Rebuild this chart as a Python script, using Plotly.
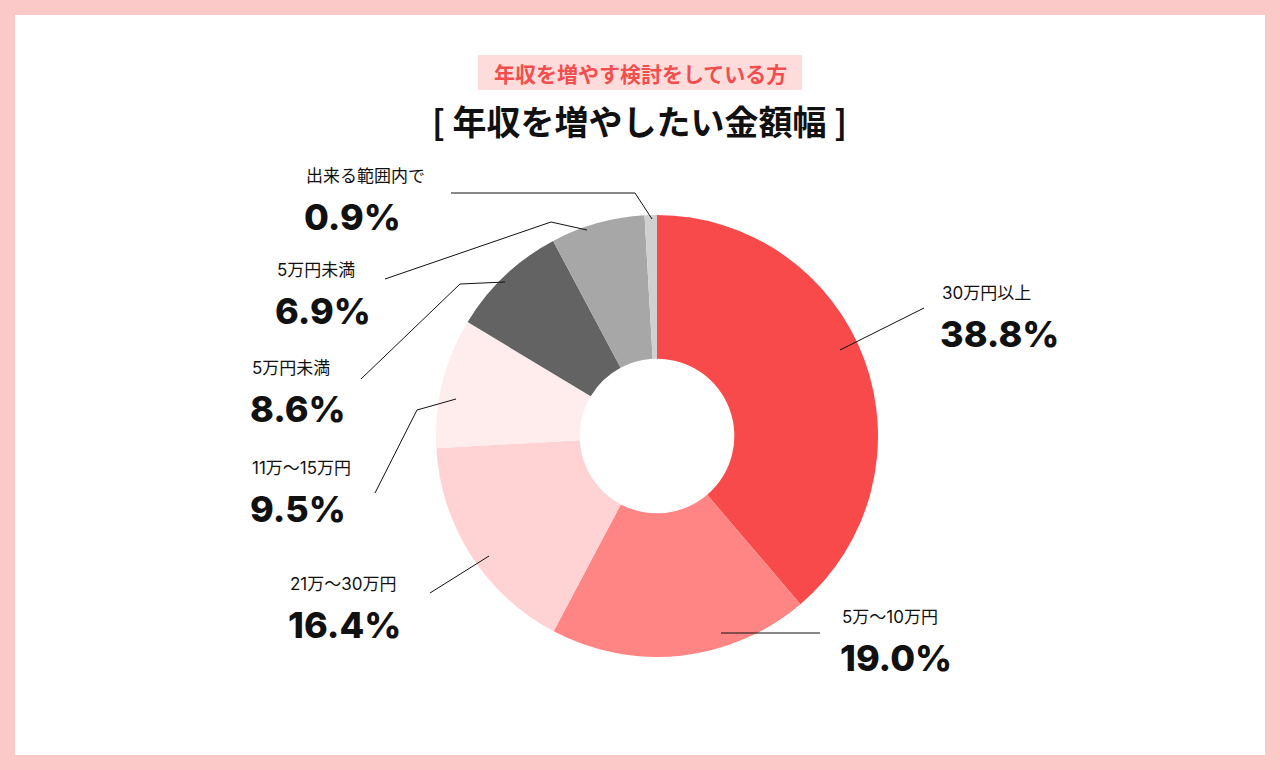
import plotly.graph_objects as go

W, H = 1280, 770

labels = ["30万円以上", "5万〜10万円", "21万〜30万円", "11万〜15万円", "5万円未満", "5万円未満", "出来る範囲内で"]
values = [38.8, 19.0, 16.4, 9.5, 8.6, 6.9, 0.9]
colors = ["#f84a4a", "#ff8585", "#ffd3d3", "#ffecec", "#636363", "#a7a7a7", "#d0d0d0"]

# label anchor (left x, y of small label) in pixels
label_pos = [(940, 293), (840, 617), (288, 584), (250, 468), (250, 368), (275, 270), (304, 176)]
# leader lines in pixels
leaders = [
    [(840, 350), (924, 308)],
    [(721, 633), (820, 633)],
    [(489, 556), (430, 593)],
    [(456, 399), (417, 410), (375, 493)],
    [(505, 282), (460, 284), (361, 379)],
    [(587, 230), (551, 222), (385, 279)],
    [(652, 219), (635, 193), (451, 193)],
]

FONT = "Inter, Noto Sans CJK JP"
JP = "Noto Sans CJK JP"


def px(x):
    return x / W


def py(y):
    return 1 - y / H


cx, cy, r = 657, 436, 221

# two slices share a label, so give the pie unique ids
slice_ids = [f"{i}:{lab}" for i, lab in enumerate(labels)]

fig = go.Figure()
fig.add_trace(go.Pie(
    labels=slice_ids, values=values, text=labels, sort=False, direction="clockwise", rotation=0,
    hole=0.35, marker=dict(colors=colors, line=dict(width=0)),
    textinfo="none", hoverinfo="text+value", showlegend=False,
    domain=dict(x=[px(cx - r), px(cx + r)], y=[py(cy + r), py(cy - r)]),
))

shapes = [dict(type="rect", xref="paper", yref="paper", x0=px(15), x1=px(1265), y0=py(755), y1=py(15),
               fillcolor="white", line=dict(width=0), layer="below"),
          dict(type="rect", xref="paper", yref="paper", x0=px(478), x1=px(802), y0=py(90), y1=py(55),
               fillcolor="#ffdcdc", line=dict(width=0), layer="below")]
for pts in leaders:
    path = "M " + " L ".join(f"{px(x)},{py(y)}" for x, y in pts)
    shapes.append(dict(type="path", xref="paper", yref="paper", path=path,
                       line=dict(color="#111111", width=1)))

annotations = [
    dict(text="<b>年収を増やす検討をしている方</b>", x=px(640), y=py(73), xref="paper", yref="paper",
         xanchor="center", yanchor="middle", showarrow=False, font=dict(family=JP, size=21, color="#f24e4e")),
    dict(text="<b>[ 年収を増やしたい金額幅 ]</b>", x=px(639), y=py(120), xref="paper", yref="paper",
         xanchor="center", yanchor="middle", showarrow=False, font=dict(family=JP, size=34, color="#111111")),
]
for lab, val, (lx, ly) in zip(labels, values, label_pos):
    annotations.append(dict(text=lab, x=px(lx), y=py(ly), xref="paper", yref="paper",
                            xanchor="left", yanchor="middle", showarrow=False,
                            font=dict(family=FONT, size=17, color="#111111")))
    annotations.append(dict(text=f"{val:.1f}%", x=px(lx - 2), y=py(ly + 41), xref="paper", yref="paper",
                            xanchor="left", yanchor="middle", showarrow=False,
                            font=dict(family=FONT, size=36, weight=800, color="#111111")))

fig.update_layout(
    width=W, height=H, margin=dict(l=0, r=0, t=0, b=0),
    paper_bgcolor="#fcc9c9", plot_bgcolor="white",
    shapes=shapes, annotations=annotations,
)

fig.write_html("out.html", config={"displayModeBar": False},
               post_script="document.body.style.margin='0';document.body.style.overflow='hidden';")
